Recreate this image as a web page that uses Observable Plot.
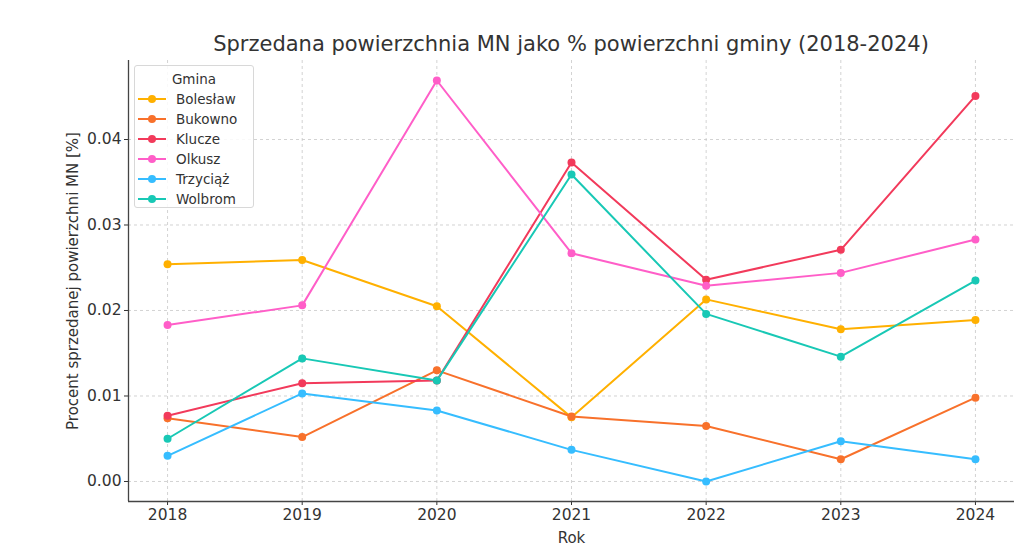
<!DOCTYPE html>
<html>
<head>
<meta charset="utf-8">
<script src="https://cdn.jsdelivr.net/npm/d3@7"></script>
<script src="https://cdn.jsdelivr.net/npm/@observablehq/plot@0.6"></script>
<style>
  html, body { margin: 0; padding: 0; background: #fff; }
  #wrap { position: relative; width: 1024px; height: 547px; font-family: "DejaVu Sans", sans-serif; }
  #title { position: absolute; left: 128px; width: 886px; top: 32px; text-align: center; font-size: 21px; color: #333; }
  #chart { position: absolute; left: 0; top: 0; }
  #chart g[aria-label="x-axis label"] text, #chart g[aria-label="y-axis label"] text { font-size: 15px; }
  #legend { position: absolute; left: 134px; top: 65px; width: 120px; height: 143px; box-sizing: border-box;
            border: 1px solid #d8d8d8; border-radius: 3px; background: rgba(255,255,255,0.85); font-size: 13.5px; color: #333; }
  #legend .t { text-align: center; margin-top: 5px; height: 19px; }
  #legend .row { position: relative; height: 20px; }
  #legend svg { position: absolute; left: 3px; top: 3px; }
  #legend span { position: absolute; left: 41px; top: 1px; }
</style>
</head>
<body>
<div id="wrap">
  <div id="chart"></div>
  <div id="title">Sprzedana powierzchnia MN jako % powierzchni gminy (2018-2024)</div>
  <div id="legend"></div>
</div>
<script>
const years = [2018, 2019, 2020, 2021, 2022, 2023, 2024];
const gminy = ["Bolesław", "Bukowno", "Klucze", "Olkusz", "Trzyciąż", "Wolbrom"];
const colors = ["#ffb000", "#f8712b", "#f23a5b", "#ff5ec8", "#36bdff", "#18c8b5"];

const boleslaw = [0.0254, 0.0259, 0.0205, 0.0075, 0.0213, 0.0178, 0.0189];
const bukowno  = [0.0074, 0.0052, 0.0130, 0.0076, 0.0065, 0.0026, 0.0098];
const klucze   = [0.0077, 0.0115, 0.0118, 0.0373, 0.0236, 0.0271, 0.0451];
const olkusz   = [0.0183, 0.0206, 0.0469, 0.0267, 0.0229, 0.0244, 0.0283];
const trzyciaz = [0.0030, 0.0103, 0.0083, 0.0037, 0.0000, 0.0047, 0.0026];
const wolbrom  = [0.0050, 0.0144, 0.0118, 0.0359, 0.0196, 0.0146, 0.0235];

const yTicks = [0, 0.01, 0.02, 0.03, 0.04];
const xDomain = [2017.71, 2024.29];
const yDomain = [-0.00234, 0.04924];

const seriesValues = [boleslaw, bukowno, klucze, olkusz, trzyciaz, wolbrom];
const data = [];
gminy.forEach((g, i) => years.forEach((y, j) => data.push({gmina: g, rok: y, v: seriesValues[i][j]})));

const chart = Plot.plot({
  width: 1024,
  height: 547,
  marginTop: 60,
  marginBottom: 46,
  marginLeft: 128,
  marginRight: 10,
  style: { fontFamily: "DejaVu Sans, sans-serif", fontSize: "15.5px", color: "#333", background: "white" },
  x: { domain: xDomain, ticks: years, tickFormat: d3.format("d") },
  y: { domain: yDomain, ticks: yTicks },
  color: { domain: gminy, range: colors },
  marks: [
    Plot.gridX(years, { stroke: "#c8c8c8", strokeOpacity: 1, strokeDasharray: "3,3", strokeWidth: 0.8 }),
    Plot.gridY(yTicks, { stroke: "#c8c8c8", strokeOpacity: 1, strokeDasharray: "3,3", strokeWidth: 0.8 }),
    Plot.axisX(years, { tickFormat: d3.format("d"), tickSize: 4, tickPadding: 3, fontSize: 15.5, label: null }),
    Plot.axisX(years, { tickSize: 0, text: null, label: "Rok", labelAnchor: "center", labelOffset: 41, labelArrow: "none" }),
    Plot.axisY(yTicks, { tickFormat: d3.format(".2f"), tickSize: 4, tickPadding: 3, fontSize: 15.5, label: null }),
    Plot.axisY(yTicks, { tickSize: 0, text: null, label: "Procent sprzedanej powierzchni MN [%]", labelAnchor: "center", labelOffset: 61, labelArrow: "none" }),
    Plot.ruleX([xDomain[0]], { stroke: "#444", strokeWidth: 1.3 }),
    Plot.ruleY([yDomain[0]], { stroke: "#444", strokeWidth: 1.3 }),
    Plot.line(data, { x: "rok", y: "v", z: "gmina", stroke: "gmina", strokeWidth: 2 }),
    Plot.dot(data, { x: "rok", y: "v", fill: "gmina", r: 4 })
  ]
});
document.getElementById("chart").appendChild(chart);

const legend = document.getElementById("legend");
legend.innerHTML = '<div class="t">Gmina</div>';
gminy.forEach((g, i) => {
  const row = document.createElement("div");
  row.className = "row";
  row.innerHTML = `<svg width="32" height="12"><line x1="0" y1="6" x2="28" y2="6" stroke="${colors[i]}" stroke-width="2"/><circle cx="14" cy="6" r="4" fill="${colors[i]}"/></svg><span>${g}</span>`;
  legend.appendChild(row);
});
</script>
</body>
</html>
